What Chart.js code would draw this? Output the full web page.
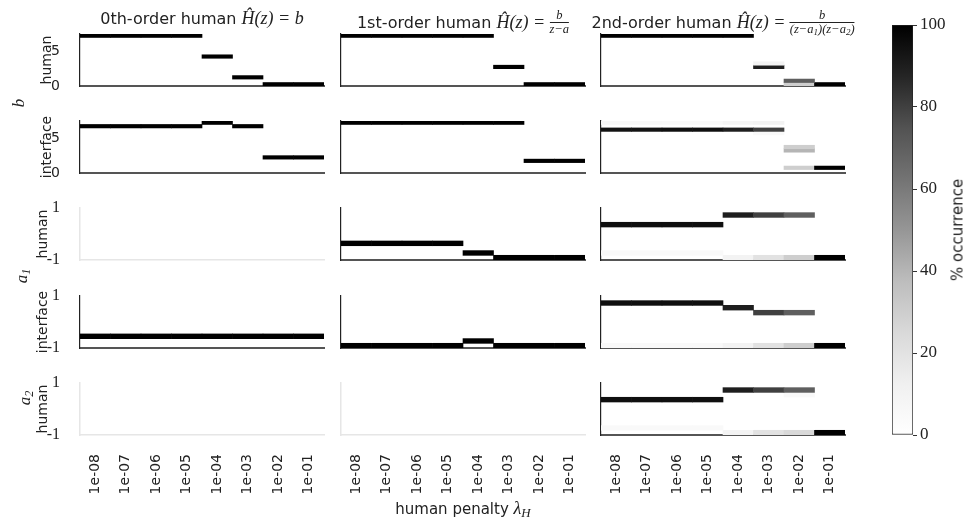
<!DOCTYPE html>
<html><head><meta charset="utf-8">
<script src="https://cdn.jsdelivr.net/npm/chart.js@4.4.1/dist/chart.umd.min.js"></script>
<style>
html,body{margin:0;padding:0;background:#fff;}
#root{position:relative;width:973px;height:525px;overflow:hidden;font-family:'DejaVu Sans',sans-serif;color:#222;}
canvas{position:absolute;}
.lbl{position:absolute;white-space:nowrap;line-height:1;}
.rot{transform:translate(-50%,-50%) rotate(-90deg);}
.ttl{position:absolute;white-space:nowrap;transform:translateX(-50%);font-size:16px;line-height:18px;}
.m{font-family:'Liberation Serif',serif;font-style:italic;font-size:18px;}
.frac{display:inline-block;vertical-align:-5px;text-align:center;font-size:12.5px;line-height:1.0;}
.frac .num{display:block;border-bottom:0.8px solid #222;padding:0 1px;}
.frac .den{display:block;}
sub{font-size:0.72em;vertical-align:-0.25em;line-height:0;}
</style></head><body><div id="root"></div>
<script>
// ---------- data ----------
const penalties = ['1e-08','1e-07','1e-06','1e-05','1e-04','1e-03','1e-02','1e-01'];
const B_BIN = 0.5;      // width of a b-histogram bin
const A_BIN = 2 / 11;   // width of an a-histogram bin
const bRange = [0, 7.5], aRange = [-1, 1];
const bTicks = [0, 5], aTicks = [-1, 1];
const cbTicks = [0, 20, 40, 60, 80, 100];

// b rows: [bin lower edge, % occurrence per penalty]
const bHuman0 = [
  [7.0, [100,100,100,100,0,0,0,0]],
  [4.0, [0,0,0,0,100,0,0,0]],
  [1.0, [0,0,0,0,0,100,0,0]],
  [0.0, [0,0,0,0,0,0,100,100]]
];
const bHuman1 = [
  [7.0, [100,100,100,100,100,0,0,0]],
  [2.5, [0,0,0,0,0,100,0,0]],
  [0.0, [0,0,0,0,0,0,100,100]]
];
const bHuman2 = [
  [7.0, [100,100,100,100,100,0,0,0]],
  [3.0, [0,0,0,0,0,10,0,0]],
  [2.5, [0,0,0,0,0,90,0,0]],
  [0.5, [0,0,0,0,0,0,70,0]],
  [0.0, [0,0,0,0,0,0,30,100]]
];
const bIface0 = [
  [7.0, [0,0,0,0,100,0,0,0]],
  [6.5, [100,100,100,100,0,100,0,0]],
  [2.0, [0,0,0,0,0,0,100,100]]
];
const bIface1 = [
  [7.0, [100,100,100,100,100,100,0,0]],
  [1.5, [0,0,0,0,0,0,100,100]]
];
const bIface2 = [
  [7.0, [6,6,5,5,8,10,0,0]],
  [6.0, [94,94,95,95,90,80,0,0]],
  [5.5, [0,0,0,0,0,5,0,0]],
  [3.5, [0,0,0,0,0,0,30,0]],
  [3.0, [0,0,0,0,0,0,40,0]],
  [0.5, [0,0,0,0,0,0,30,100]]
];
// a rows: [bin centre, % occurrence per penalty]
const a1Human0 = [];
const a1Human1 = [
  [-0.36, [100,100,100,100,0,0,0,0]],
  [-0.73, [0,0,0,0,100,0,0,0]],
  [-0.91, [0,0,0,0,0,100,100,100]]
];
const a1Human2 = [
  [0.73, [0,0,0,0,90,80,70,0]],
  [0.36, [95,95,95,95,0,0,0,0]],
  [-0.73, [5,5,5,5,0,0,0,0]],
  [-0.91, [0,0,0,0,10,20,30,100]]
];
const a1Iface0 = [
  [-0.55, [100,100,100,100,100,100,100,100]]
];
const a1Iface1 = [
  [-0.73, [0,0,0,0,100,0,0,0]],
  [-0.91, [100,100,100,100,0,100,100,100]]
];
const a1Iface2 = [
  [0.73, [95,95,95,95,0,0,0,0]],
  [0.55, [0,0,0,0,90,0,0,0]],
  [0.36, [0,0,0,0,0,80,70,0]],
  [-0.91, [5,5,5,5,10,20,30,100]]
];
const a2Human0 = [];
const a2Human1 = [];
const a2Human2 = [
  [0.73, [0,0,0,0,90,80,70,0]],
  [0.55, [0,0,0,0,0,0,5,0]],
  [0.36, [95,95,95,95,0,0,0,0]],
  [-0.73, [5,5,5,5,0,0,0,0]],
  [-0.91, [0,0,0,0,10,20,25,100]]
];

// ---------- layout / style ----------
const GREYS = [255,240,217,189,150,115,82,37,0];
function grey(p){
  const t = Math.min(Math.max(p/100,0),1)*8;
  const i = Math.min(Math.floor(t),7), f = t-i;
  const v = Math.round(GREYS[i]+(GREYS[i+1]-GREYS[i])*f);
  return `rgb(${v},${v},${v})`;
}
const COLS = [80, 341, 601], ROWS = [34, 121, 208, 296, 383], PW = 244, PH = 52;
const root = document.getElementById('root');

const panels = [
  [bHuman0, bHuman1, bHuman2],
  [bIface0, bIface1, bIface2],
  [a1Human0, a1Human1, a1Human2],
  [a1Iface0, a1Iface1, a1Iface2],
  [a2Human0, a2Human1, a2Human2]
];

function makePanel(row, col, data){
  const isB = row < 2;
  const PAD_L = 60, PAD_T = 26, PAD_R = 22, PAD_B = 26;
  const xH = row === 4 ? 72 : 2;
  const W = PAD_L + PW + PAD_R, H = PAD_T + PH + xH + PAD_B;
  const cv = document.createElement('canvas');
  cv.width = W; cv.height = H;
  cv.style.left = (COLS[col]-PAD_L)+'px'; cv.style.top = (ROWS[row]-PAD_T)+'px';
  root.appendChild(cv);
  const empty = data.length === 0;
  const datasets = data.map(([y, pcts]) => ({
    data: pcts.map(v => v > 0 ? (isB ? [y, y + B_BIN] : [y - A_BIN/2, y + A_BIN/2]) : null),
    backgroundColor: pcts.map(v => grey(v)),
    borderWidth: 0, grouped: false, categoryPercentage: 1, barPercentage: 1
  }));
  const range = isB ? bRange : aRange;
  const ticks = isB ? bTicks : aTicks;
  new Chart(cv, {
    type: 'bar',
    data: { labels: penalties, datasets },
    options: {
      responsive: false, animation: false, devicePixelRatio: 1, events: [],
      layout: { padding: { top: PAD_T, right: PAD_R, bottom: PAD_B, left: 0 } },
      plugins: { legend: { display: false }, tooltip: { enabled: false } },
      scales: {
        x: {
          type: 'category', offset: true,
          grid: { display: false },
          border: { display: true, color: empty ? '#e6e6e6' : '#555', width: empty ? 1.5 : 2 },
          ticks: { display: row === 4, minRotation: 90, maxRotation: 90, autoSkip: false, padding: 11,
                   color: '#222', font: { family: 'DejaVu Sans', size: 14 } },
          afterFit: s => { s.height = xH; }
        },
        y: {
          type: 'linear', min: range[0], max: range[1],
          grid: { display: false },
          border: { display: true, color: empty ? '#e6e6e6' : '#222', width: empty ? 1.5 : 1.2 },
          ticks: { display: col === 0, padding: 12, color: '#222',
                   font: isB ? { family: 'DejaVu Sans', size: 14 } : { family: 'Liberation Serif', size: 16 },
                   callback: v => String(v) },
          afterBuildTicks: s => { s.ticks = ticks.map(v => ({ value: v })); },
          afterFit: s => { s.width = PAD_L; }
        }
      }
    }
  });
}
panels.forEach((r, ri) => r.forEach((d, ci) => makePanel(ri, ci, d)));

// colorbar
(function(){
  const cv = document.createElement('canvas');
  cv.width = 86; cv.height = 450;
  cv.style.left = '887px'; cv.style.top = '5px';
  root.appendChild(cv);
  new Chart(cv, {
    type: 'bar',
    data: { labels: [''], datasets: [{
      data: [[cbTicks[0], cbTicks[cbTicks.length-1]]],
      backgroundColor: (ctx) => {
        const ca = ctx.chart.chartArea; if (!ca) return '#888';
        const g = ctx.chart.ctx.createLinearGradient(0, ca.bottom, 0, ca.top);
        GREYS.forEach((v, i) => g.addColorStop(i/8, `rgb(${v},${v},${v})`));
        return g;
      },
      borderColor: '#222', borderWidth: 1, borderSkipped: false,
      categoryPercentage: 1, barPercentage: 1
    }]},
    options: {
      responsive: false, animation: false, devicePixelRatio: 1, events: [],
      layout: { padding: { top: 20, bottom: 20, left: 5, right: 0 } },
      plugins: { legend: { display: false }, tooltip: { enabled: false } },
      scales: {
        x: { display: false },
        y: {
          position: 'right', min: 0, max: 100,
          grid: { display: true, drawOnChartArea: false, drawTicks: true, tickLength: 4, color: '#333', lineWidth: 1 },
          border: { display: false },
          ticks: { padding: 3, color: '#222', font: { family: 'Liberation Serif', size: 17 } },
          afterBuildTicks: s => { s.ticks = cbTicks.map(v => ({ value: v })); },
          afterFit: s => { s.width = 60; }
        }
      }
    }
  });
})();

// ---------- text ----------
function add(html, cls, x, y, size){
  const d = document.createElement('div');
  d.className = cls; d.innerHTML = html;
  d.style.left = x+'px'; d.style.top = y+'px';
  if (size) d.style.fontSize = size+'px';
  root.appendChild(d);
  return d;
}
const titles = [
  '0th-order human <span class="m">Ĥ(z) = b</span>',
  '1st-order human <span class="m">Ĥ(z) = <span class="frac"><span class="num">b</span><span class="den">z−a</span></span></span>',
  '2nd-order human <span class="m">Ĥ(z) = <span class="frac"><span class="num">b</span><span class="den">(z−a<sub>1</sub>)(z−a<sub>2</sub>)</span></span></span>'
];
titles.forEach((t, i) => add(t, 'ttl', COLS[i] + PW/2, 9));

const rowLabels = ['human', 'interface', 'human', 'interface', 'human'];
const rowLabelX = [46, 46, 42, 42, 42];
rowLabels.forEach((t, i) => add(t, 'lbl rot', rowLabelX[i], ROWS[i] + PH/2, 14));
add('<span class="m" style="font-size:17px">b</span>', 'lbl rot', 18, 103);
add('<span class="m" style="font-size:17px">a<sub>1</sub></span>', 'lbl rot', 21, 276);
add('<span class="m" style="font-size:17px">a<sub>2</sub></span>', 'lbl rot', 24, 398);
const xl = add('human penalty <span class="m">λ<sub>H</sub></span>', 'lbl', 463, 508, 15);
xl.style.transform = 'translate(-50%,-50%)';
add('% occurrence', 'lbl rot', 958, 230, 15);
</script></body></html>
